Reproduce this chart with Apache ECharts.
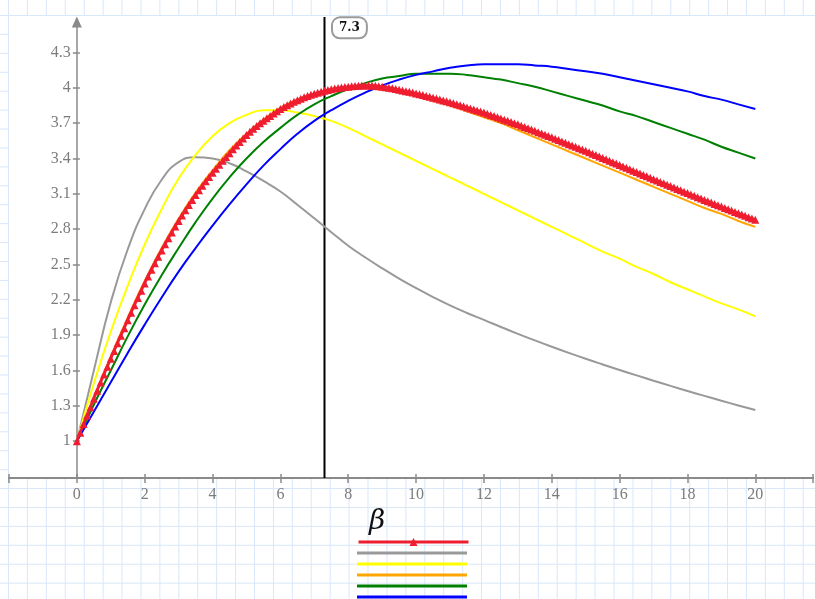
<!DOCTYPE html>
<html>
<head>
<meta charset="utf-8">
<script src="https://cdn.jsdelivr.net/npm/echarts@6/dist/echarts.min.js"></script>
<style>
    html, body {
        margin: 0;
        padding: 0;
    }
    body {
        width: 815px;
        height: 599px;
        position: relative;
        overflow: hidden;
        background-color: #fff;
        background-image: linear-gradient(to right, #d9e7fa 1px, transparent 1px),
            linear-gradient(to bottom, #d9e7fa 1px, transparent 1px);
        background-size: 18.93px 18.93px;
        background-position: 8px 15px;
    }
    .paper {
        position: absolute;
        left: 9px;
        top: 16px;
        width: 806px;
        height: 462px;
        background: #fff;
    }
    #chart {
        position: absolute;
        left: 0;
        top: 0;
        width: 815px;
        height: 599px;
    }
</style>
</head>
<body>
<div class="paper"></div>
<div id="chart"></div>
<script>
// beta sample points for the plain curves
const betaCoarse = [0, 0.5, 1, 1.5, 2, 2.5, 3, 3.5, 4, 4.5, 5, 5.5, 6, 6.5, 7, 7.5, 8, 8.5, 9, 9.5, 10,
    10.5, 11, 11.5, 12, 12.5, 13, 13.5, 14, 14.5, 15, 15.5, 16, 16.5, 17, 17.5, 18, 18.5, 19, 19.5, 20]

const grayValues = [1.00, 1.60, 2.18, 2.63, 2.97, 3.22, 3.37, 3.41, 3.40, 3.36, 3.29, 3.21, 3.12, 3.008, 2.893, 2.775,
    2.660, 2.561, 2.468, 2.381, 2.300, 2.224, 2.153, 2.089, 2.030, 1.970, 1.912, 1.856, 1.802, 1.750, 1.700,
    1.652, 1.605, 1.559, 1.514, 1.470, 1.427, 1.385, 1.344, 1.304, 1.265]
const yellowValues = [1.00, 1.49, 1.93, 2.32, 2.67, 2.97, 3.23, 3.43, 3.59, 3.70, 3.77, 3.81, 3.81, 3.79, 3.76, 3.72,
    3.66, 3.59, 3.52, 3.45, 3.38, 3.31, 3.24, 3.17, 3.10, 3.03, 2.96, 2.89, 2.82, 2.75, 2.68, 2.61, 2.55, 2.48,
    2.42, 2.35, 2.29, 2.23, 2.17, 2.12, 2.06]
const orangeValues = [1.00, 1.37, 1.72, 2.05, 2.36, 2.64, 2.89, 3.11, 3.30, 3.47, 3.61, 3.73, 3.83, 3.90, 3.95, 3.98,
    4.00, 4.00, 3.99, 3.96, 3.93, 3.89, 3.85, 3.80, 3.75, 3.70, 3.64, 3.58, 3.52, 3.46, 3.40, 3.34, 3.28, 3.22,
    3.16, 3.10, 3.04, 2.98, 2.93, 2.87, 2.82]
const greenValues = [1.00, 1.31, 1.60, 1.89, 2.16, 2.41, 2.64, 2.86, 3.06, 3.24, 3.40, 3.54, 3.66, 3.77, 3.86, 3.93,
    3.99, 4.04, 4.08, 4.10, 4.12, 4.12, 4.12, 4.11, 4.09, 4.07, 4.04, 4.01, 3.97, 3.93, 3.89, 3.85, 3.80, 3.76,
    3.71, 3.66, 3.61, 3.56, 3.50, 3.45, 3.40]
const blueValues = [1.00, 1.25, 1.50, 1.75, 1.99, 2.22, 2.44, 2.64, 2.83, 3.01, 3.18, 3.34, 3.48, 3.61, 3.72, 3.81,
    3.89, 3.96, 4.02, 4.07, 4.11, 4.14, 4.17, 4.19, 4.20, 4.20, 4.20, 4.19, 4.18, 4.16, 4.14, 4.12, 4.09, 4.06,
    4.03, 4.00, 3.97, 3.93, 3.90, 3.86, 3.82]

// red curve is sampled every 0.1 in beta (one row per unit of beta)
const redBetaStep = 0.1
const redValues = [
    1.000, 1.073, 1.146, 1.218, 1.289, 1.360, 1.429, 1.498, 1.566, 1.633,
    1.700, 1.766, 1.831, 1.896, 1.960, 2.027, 2.091, 2.154, 2.216, 2.278,
    2.340, 2.398, 2.455, 2.511, 2.566, 2.620, 2.672, 2.723, 2.773, 2.822,
    2.870, 2.916, 2.961, 3.005, 3.048, 3.090, 3.130, 3.169, 3.207, 3.244,
    3.280, 3.314, 3.348, 3.381, 3.413, 3.445, 3.478, 3.510, 3.541, 3.571,
    3.600, 3.627, 3.652, 3.676, 3.699, 3.721, 3.742, 3.762, 3.782, 3.801,
    3.820, 3.837, 3.853, 3.868, 3.882, 3.895, 3.908, 3.920, 3.931, 3.941,
    3.950, 3.959, 3.967, 3.975, 3.982, 3.988, 3.994, 3.999, 4.003, 4.007,
    4.010, 4.013, 4.016, 4.018, 4.019, 4.020, 4.020, 4.019, 4.017, 4.014,
    4.010, 4.006, 4.001, 3.996, 3.990, 3.984, 3.978, 3.972, 3.966, 3.960,
    3.953, 3.946, 3.939, 3.931, 3.924, 3.916, 3.909, 3.901, 3.893, 3.886,
    3.878, 3.869, 3.860, 3.852, 3.843, 3.834, 3.825, 3.816, 3.808, 3.799,
    3.790, 3.780, 3.770, 3.760, 3.750, 3.740, 3.730, 3.720, 3.710, 3.700,
    3.690, 3.679, 3.668, 3.657, 3.646, 3.635, 3.624, 3.613, 3.602, 3.591,
    3.580, 3.568, 3.557, 3.545, 3.534, 3.522, 3.511, 3.499, 3.488, 3.476,
    3.465, 3.453, 3.441, 3.429, 3.417, 3.405, 3.393, 3.381, 3.369, 3.357,
    3.345, 3.333, 3.321, 3.309, 3.297, 3.285, 3.273, 3.261, 3.249, 3.237,
    3.225, 3.213, 3.201, 3.190, 3.178, 3.166, 3.154, 3.142, 3.131, 3.119,
    3.107, 3.095, 3.084, 3.072, 3.061, 3.049, 3.038, 3.026, 3.015, 3.003,
    2.992, 2.981, 2.969, 2.958, 2.947, 2.936, 2.925, 2.914, 2.902, 2.891,
    2.880,
]

const markerBeta = 7.3
const xMin = -2
const xMax = 21.7
const yMin = 0.688
const yMax = 4.559
const xTickValues = [-2, 0, 2, 4, 6, 8, 10, 12, 14, 16, 18, 20, 21.7]
const xLabelValues = [0, 2, 4, 6, 8, 10, 12, 14, 16, 18, 20]
const yTickValues = [1, 1.3, 1.6, 1.9, 2.2, 2.5, 2.8, 3.1, 3.4, 3.7, 4, 4.3]

const AXIS_GRAY = '#8a8a8a'
const LABEL_GRAY = '#7c7c7c'
const LABEL_FONT = 'Liberation Serif'
const GRID = { left: 9, right: 2, top: 22, bottom: 121 }

const chart = echarts.init(document.getElementById('chart'), null, { renderer: 'canvas' })

// the y axis sits at beta = 0, not at the left edge of the plot
const plotWidth = 815 - GRID.left - GRID.right
const yAxisShift = -((0 - xMin) / (xMax - xMin)) * plotWidth

const pairs = (xs, ys) => ys.map((v, i) => [xs[i], v])
const redData = redValues.map((v, i) => [+(i * redBetaStep).toFixed(1), v])
const LINE_ICON = 'path://M0,0H110V3H0Z'

function plainLine(name, color, values) {
    return {
        name: name,
        type: 'line',
        data: pairs(betaCoarse, values),
        smooth: 0.5,
        symbol: 'none',
        z: 2,
        lineStyle: { color: color, width: 2 },
        itemStyle: { color: color },
    }
}

const baseX = {
    type: 'value',
    min: xMin,
    max: xMax,
    position: 'bottom',
    splitLine: { show: false },
}
const baseY = {
    type: 'value',
    min: yMin,
    max: yMax,
    position: 'left',
    offset: yAxisShift,
    splitLine: { show: false },
}

const option = {
    animation: false,
    grid: Object.assign({ outerBoundsMode: 'none', containLabel: false }, GRID),
    legend: [
        {
            orient: 'vertical',
            left: 357,
            top: 537,
            padding: 0,
            itemWidth: 110,
            itemHeight: 10,
            itemGap: 3,
            formatter: () => '',
            selectedMode: false,
            lineStyle: { width: 3 },
            data: ['red'],
        },
        {
            orient: 'vertical',
            left: 357,
            top: 551.5,
            padding: 0,
            itemWidth: 110,
            itemHeight: 3,
            itemGap: 8,
            formatter: () => '',
            selectedMode: false,
            data: ['gray', 'yellow', 'orange', 'green', 'blue'].map(n => ({ name: n, icon: LINE_ICON })),
        },
    ],
    xAxis: [
        Object.assign({}, baseX, {
            name: 'β',
            nameLocation: 'middle',
            nameGap: 24,
            nameTextStyle: {
                fontFamily: 'DejaVu Serif',
                fontStyle: 'italic',
                fontSize: 28,
                color: '#111',
                padding: [0, 68, 0, 0],
            },
            axisLine: { onZero: false, lineStyle: { color: AXIS_GRAY, width: 2 } },
            axisTick: { length: 5, customValues: xTickValues, lineStyle: { color: AXIS_GRAY, width: 1.5 } },
            axisLabel: {
                customValues: xLabelValues,
                margin: 9,
                color: LABEL_GRAY,
                fontFamily: LABEL_FONT,
                fontSize: 16,
            },
        }),
        Object.assign({}, baseX, {
            axisLine: { show: false, onZero: false },
            axisTick: { inside: true, length: 4, customValues: xTickValues, lineStyle: { color: AXIS_GRAY, width: 1.5 } },
            axisLabel: { show: false },
        }),
    ],
    yAxis: [
        Object.assign({}, baseY, {
            axisLine: {
                onZero: false,
                symbol: ['none', 'triangle'],
                symbolSize: [10, 11],
                lineStyle: { color: AXIS_GRAY, width: 1.5 },
            },
            axisTick: { length: 4, customValues: yTickValues, lineStyle: { color: AXIS_GRAY, width: 1.5 } },
            axisLabel: {
                customValues: yTickValues,
                margin: 6,
                color: LABEL_GRAY,
                fontFamily: LABEL_FONT,
                fontSize: 16,
            },
        }),
        Object.assign({}, baseY, {
            axisLine: { show: false, onZero: false },
            axisTick: { inside: true, length: 3, customValues: yTickValues, lineStyle: { color: AXIS_GRAY, width: 1.5 } },
            axisLabel: { show: false },
        }),
    ],
    series: [
        {
            name: 'red',
            type: 'line',
            data: redData,
            symbol: 'triangle',
            symbolSize: 8,
            showAllSymbol: true,
            z: 4,
            lineStyle: { color: '#ee1d2f', width: 2.5 },
            itemStyle: { color: '#ee1d2f' },
        },
        plainLine('gray', '#999999', grayValues),
        plainLine('yellow', '#ffff00', yellowValues),
        plainLine('orange', '#ffa500', orangeValues),
        plainLine('green', '#008000', greenValues),
        plainLine('blue', '#0000ff', blueValues),
        {
            // vertical marker at beta = 7.3
            name: 'marker',
            type: 'line',
            data: [[markerBeta, yMin], [markerBeta, 4.602]],
            symbol: 'none',
            clip: false,
            z: 1,
            silent: true,
            lineStyle: { color: '#000', width: 2 },
            markPoint: {
                silent: true,
                symbol: 'rect',
                symbolSize: 1,
                itemStyle: { color: 'rgba(0,0,0,0)' },
                label: {
                    show: true,
                    position: 'right',
                    distance: 8,
                    formatter: String(markerBeta),
                    fontFamily: 'DejaVu Serif',
                    fontWeight: 'bold',
                    fontSize: 12,
                    color: '#111',
                    backgroundColor: '#fff',
                    borderColor: '#9a9a9a',
                    borderWidth: 2,
                    borderRadius: 7,
                    padding: [4, 6, 3, 6],
                },
                data: [{ coord: [markerBeta, 4.51] }],
            },
        },
    ],
}

chart.setOption(option)
</script>
</body>
</html>
